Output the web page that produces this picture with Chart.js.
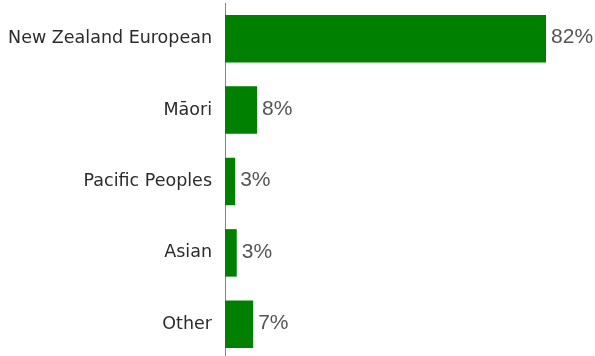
<!DOCTYPE html>
<html>
<head>
<meta charset="utf-8">
<script src="https://cdn.jsdelivr.net/npm/chart.js@4/dist/chart.umd.min.js"></script>
<style>
html,body{margin:0;padding:0;background:#fff;overflow:hidden;}
#wrap{position:absolute;left:0;top:0;width:595px;height:360px;}
</style>
</head>
<body>
<div id="wrap"><canvas id="c" width="595" height="360"></canvas></div>
<script>
const categories = ["New Zealand European", "M\u0101ori", "Pacific Peoples", "Asian", "Other"];
const shares = [82.0, 8.2, 2.6, 3.0, 7.2];
const valueLabels = ["82%", "8%", "3%", "3%", "7%"];
const xMin = 0;
const xMax = 94;

const valueLabelPlugin = {
  id: 'valueLabels',
  afterDatasetsDraw(chart) {
    const ctx = chart.ctx;
    const meta = chart.getDatasetMeta(0);
    ctx.save();
    ctx.font = '21px "Liberation Sans", Arial, sans-serif';
    ctx.fillStyle = '#555555';
    ctx.textAlign = 'left';
    ctx.textBaseline = 'middle';
    meta.data.forEach((bar, i) => {
      ctx.fillText(valueLabels[i], bar.x + 5, bar.y - 1);
    });
    ctx.restore();
  }
};

new Chart(document.getElementById('c'), {
  type: 'bar',
  data: {
    labels: categories,
    datasets: [{
      data: shares,
      backgroundColor: '#008000',
      borderWidth: 0,
      barPercentage: 0.665,
      categoryPercentage: 1
    }]
  },
  options: {
    indexAxis: 'y',
    responsive: false,
    animation: false,
    devicePixelRatio: 1,
    layout: { padding: { top: 3, bottom: 0, left: 0, right: 2 } },
    plugins: { legend: { display: false }, tooltip: { enabled: false } },
    scales: {
      x: {
        display: false,
        min: xMin,
        max: xMax
      },
      y: {
        afterFit(scale) { scale.width = 225; scale.paddingTop = 0; scale.paddingBottom = 0; },
        grid: { display: false, drawTicks: false },
        border: { display: true, color: '#7f8590', width: 1 },
        ticks: {
          color: '#2b2b2b',
          padding: 13,
          font: { family: '"DejaVu Sans", sans-serif', size: 17.5 }
        }
      }
    }
  },
  plugins: [valueLabelPlugin]
});
</script>
</body>
</html>
